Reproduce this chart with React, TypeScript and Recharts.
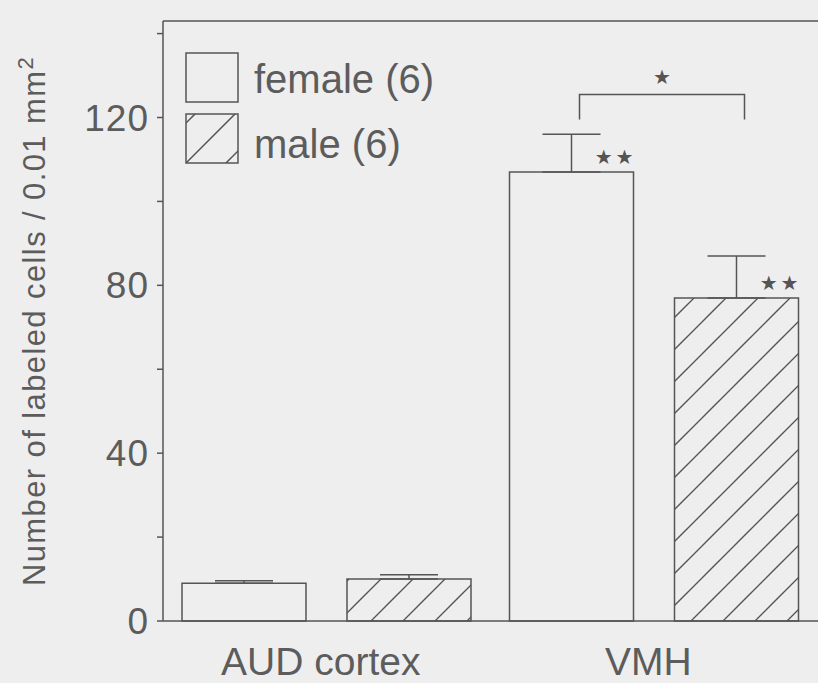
import { BarChart, Bar, XAxis, YAxis, ErrorBar, LabelList, ReferenceLine } from "recharts";

// values
const regions = ["AUD cortex", "VMH"];
const femaleMean = [9, 107];
const femaleSem = [0.6, 9];
const maleMean = [10, 77];
const maleSem = [1, 10];
const femaleSig = ["", "**"];
const maleSig = ["", "**"];
const pairSig = ["", "*"];
const bracketTop = [0, 125.5];
const bracketFoot = [0, 119.5];
const yTicks = [0, 20, 40, 60, 80, 100, 120, 140];
const yLabelled = [0, 40, 80, 120];
const yMax = 143;
const legendNames = ["female (6)", "male (6)"];

const INK = "#555";
const TEXT = "#5c5c5c";
const BG = "#eeeeee";
const FONT = "'Liberation Sans', Arial, Helvetica, sans-serif";
const BAR = 124;
const GAP = 41;

const data = regions.map((region, i) => ({
  region,
  female: femaleMean[i],
  femaleErr: [0, femaleSem[i]],
  male: maleMean[i],
  maleErr: [0, maleSem[i]],
  femaleSig: femaleSig[i],
  maleSig: maleSig[i],
  pairSig: pairSig[i],
}));

const YTick = ({ x, y, payload }: any) =>
  yLabelled.includes(payload.value) ? (
    <text x={x - 6} y={y} dy={13} textAnchor="end" fontSize={37} letterSpacing={1} fill={TEXT} fontFamily={FONT}>
      {payload.value}
    </text>
  ) : null;

const XTick = ({ x, y, payload }: any) => (
  <text x={x - 6} y={y} dy={52} textAnchor="middle" fontSize={39} fill={TEXT} fontFamily={FONT}>
    {payload.value}
  </text>
);

const YLabel = ({ viewBox }: any) => {
  const cx = viewBox.x + 45;
  const cy = viewBox.y + viewBox.height / 2;
  return (
    <text
      x={cx}
      y={cy}
      transform={`rotate(-90, ${cx}, ${cy})`}
      textAnchor="middle"
      fontSize={31}
      letterSpacing={1.4}
      fill={TEXT}
      fontFamily={FONT}
    >
      Number of labeled cells / 0.01 mm<tspan dy={-12} fontSize={22}>2</tspan>
    </text>
  );
};

const Stars = ({ x, y, width, value }: any) => {
  if (!value) return null;
  return (
    <text x={x + width + 3} y={y - 8} textAnchor="end" fontSize={20} letterSpacing={3} fill={INK} fontFamily="'DejaVu Sans', sans-serif">
      {"★".repeat(value.length)}
    </text>
  );
};

// bracket between female and male VMH, hung from the male bar
const Bracket = ({ x, y, width, height, index, value }: any) => {
  if (!value) return null;
  const unit = height / maleMean[index];
  const base = y + height;
  const right = x + width / 2 + 8;
  const left = right - (BAR + GAP);
  const top = base - bracketTop[index] * unit;
  const foot = base - bracketFoot[index] * unit;
  return (
    <g>
      <path d={`M${left},${foot} V${top} H${right} V${foot}`} fill="none" stroke={INK} strokeWidth={1.5} />
      <text x={(left + right) / 2} y={top - 10} textAnchor="middle" fontSize={20} fill={INK} fontFamily="'DejaVu Sans', sans-serif">
        {"★".repeat(value.length)}
      </text>
    </g>
  );
};

const LegendBox = () => (
  <svg width={300} height={115} style={{ position: "absolute", left: 185, top: 52, overflow: "visible" }}>
    <defs>
      <clipPath id="legClip">
        <rect x={1} y={62} width={52} height={49} />
      </clipPath>
    </defs>
    <rect x={1} y={1} width={52} height={49} fill="none" stroke={INK} strokeWidth={1.5} />
    <g clipPath="url(#legClip)" stroke={INK} strokeWidth={1.5}>
      <line x1={-10} y1={82} x2={40} y2={32} />
      <line x1={-10} y1={122} x2={60} y2={52} />
      <line x1={30} y1={122} x2={80} y2={72} />
    </g>
    <rect x={1} y={62} width={52} height={49} fill="none" stroke={INK} strokeWidth={1.5} />
    {legendNames.map((n, i) => (
      <text key={n} x={69} y={41 + i * 65} fontSize={40} fill={TEXT} fontFamily={FONT}>
        {n}
      </text>
    ))}
  </svg>
);

export default function App() {
  return (
    <div style={{ position: "absolute", left: 0, top: 0, width: 818, height: 683, background: BG }}>
      <BarChart width={818} height={683} data={data} margin={{ top: 21, right: 0, bottom: 0, left: 0 }} barGap={GAP} barSize={BAR}>
        <defs>
          <pattern id="hatch" patternUnits="userSpaceOnUse" width={32} height={32}>
            <path d="M0,32 L32,0 M-8,8 L8,-8 M24,40 L40,24" stroke={INK} strokeWidth={1.4} />
          </pattern>
        </defs>
        <XAxis dataKey="region" tickLine={false} tickSize={0} height={62} axisLine={{ stroke: INK, strokeWidth: 1.5 }} tick={<XTick />} />
        <YAxis
          domain={[0, yMax]}
          ticks={yTicks}
          width={163}
          tickSize={6}
          tickLine={{ stroke: INK, strokeWidth: 1.5 }}
          axisLine={{ stroke: INK, strokeWidth: 1.5 }}
          tick={<YTick />}
          label={{ content: <YLabel /> }}
        />
        <ReferenceLine y={yMax} stroke={INK} strokeWidth={1.5} />
        <Bar dataKey="female" fill={BG} stroke={INK} strokeWidth={1.5} isAnimationActive={false}>
          <ErrorBar dataKey="femaleErr" width={29} stroke={INK} strokeWidth={1.5} direction="y" />
          <LabelList dataKey="femaleSig" content={<Stars />} />
        </Bar>
        <Bar dataKey="male" fill="url(#hatch)" stroke={INK} strokeWidth={1.5} isAnimationActive={false}>
          <ErrorBar dataKey="maleErr" width={29} stroke={INK} strokeWidth={1.5} direction="y" />
          <LabelList dataKey="maleSig" content={<Stars />} />
          <LabelList dataKey="pairSig" content={<Bracket />} />
        </Bar>
      </BarChart>
      <LegendBox />
    </div>
  );
}
